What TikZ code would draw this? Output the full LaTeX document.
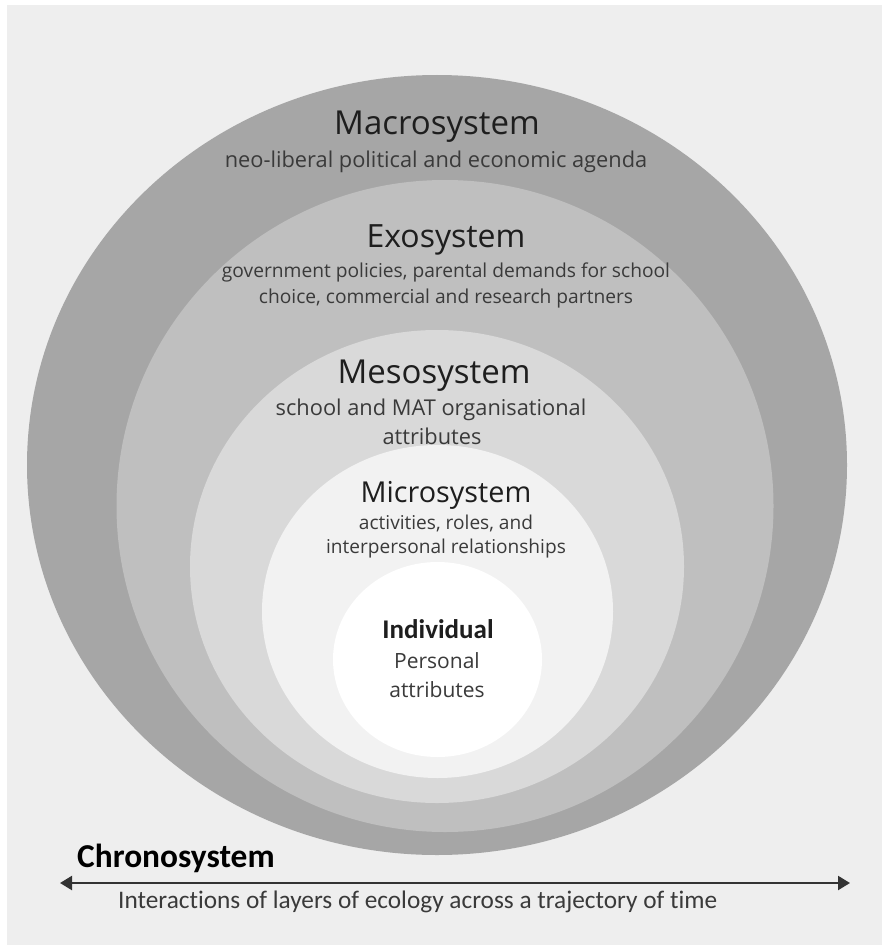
\documentclass[tikz,border=0pt]{standalone}
\usepackage{fontspec}
\setmainfont{Open Sans}
\newfontfamily\calib[Ligatures=NoCommon]{Carlito}
\usetikzlibrary{shapes.geometric,arrows.meta}
\definecolor{bgc}{HTML}{EEEEEE}
\definecolor{macroc}{HTML}{A6A6A6}
\definecolor{exoc}{HTML}{BFBFBF}
\definecolor{mesoc}{HTML}{D9D9D9}
\definecolor{microc}{HTML}{F2F2F2}
\definecolor{titlec}{HTML}{1E1E1E}
\definecolor{subc}{HTML}{3A3A3A}
\tikzset{
  x=1pt, y=-1pt,
  layer/.style={ellipse, draw=none, inner sep=0pt, outer sep=0pt},
  ttl/.style={anchor=base, inner sep=0pt, text=titlec},
  sub/.style={anchor=base, inner sep=0pt, text=subc},
}
\begin{document}
\begin{tikzpicture}
\useasboundingbox (0,0) rectangle (887,947);
\fill[white] (0,0) rectangle (887,947);
\fill[bgc] (7,5) rectangle (882,945);
% layers
\node[layer, fill=macroc, minimum width=820pt, minimum height=780pt] (macro) at (437,465) {};
\node[layer, fill=exoc, minimum width=657pt, minimum height=652pt] (exo) at (445,506) {};
\node[layer, fill=mesoc, minimum width=494pt, minimum height=473pt] (meso) at (437,566.5) {};
\node[layer, fill=microc, minimum width=351pt, minimum height=333pt] (micro) at (437.5,611.5) {};
\node[layer, fill=white, minimum width=209pt, minimum height=195pt] (indiv) at (437.5,659.5) {};
% texts
\node[ttl, font=\fontsize{33}{38}\selectfont] (tmacro) at (437,135) {Macrosystem};
\node[sub, font=\fontsize{21.8}{25}\selectfont] (smacro) at (436,167) {neo-liberal political and economic agenda};
\node[ttl, font=\fontsize{32}{37}\selectfont] (texo) at (446,247) {Exosystem};
\node[sub, font=\fontsize{19.2}{23}\selectfont] (sexoa) at (446,277) {government policies, parental demands for school};
\node[sub, font=\fontsize{19.2}{23}\selectfont] (sexob) at (446,303) {choice, commercial and research partners};
\node[ttl, font=\fontsize{33}{38}\selectfont] (tmeso) at (434,383) {Mesosystem};
\node[sub, font=\fontsize{21.8}{25}\selectfont] (smesoa) at (431,415) {school and MAT organisational};
\node[sub, font=\fontsize{21.8}{25}\selectfont] (smesob) at (432,444) {attributes};
\node[ttl, font=\fontsize{28.8}{33}\selectfont] (tmicro) at (446,502) {Microsystem};
\node[sub, font=\fontsize{19.1}{23}\selectfont] (smicroa) at (446,529) {activities, roles, and};
\node[sub, font=\fontsize{19.1}{23}\selectfont] (smicrob) at (446,553) {interpersonal relationships};
\node[ttl, font=\calib\bfseries\fontsize{27}{32}\selectfont] (tindiv) at (438,638) {Individual};
\node[sub, font=\fontsize{21}{25}\selectfont] (sindiva) at (437,668) {Personal};
\node[sub, font=\fontsize{21}{25}\selectfont] (sindivb) at (437,697) {attributes};
% chronosystem
\node[ttl, anchor=base west, font=\calib\bfseries\fontsize{33.4}{38}\selectfont, text=black] (tchrono) at (77,867) {Chronosystem};
\coordinate (aleft) at (60,883);
\coordinate (aright) at (850,883);
\draw[line width=2.2pt, draw=black!80, {Triangle[length=12pt,width=14pt]}-{Triangle[length=12pt,width=14pt]}] (aleft) -- (aright);
\node[sub, anchor=base west, font=\calib\fontsize{25.3}{29}\selectfont] (schrono) at (118,908) {Interactions of layers of ecology across a trajectory of time};
\end{tikzpicture}
\end{document}
